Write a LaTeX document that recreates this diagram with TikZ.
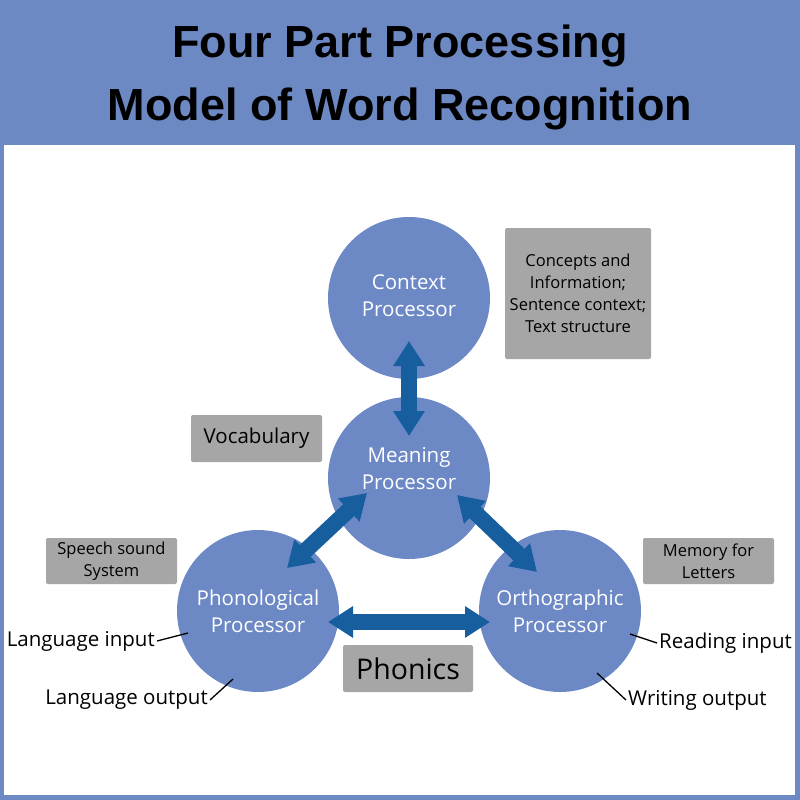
\documentclass[tikz,border=0pt]{standalone}
\usepackage{xcolor}
\usepackage{fontspec}
\setmainfont{Open Sans}
\newfontfamily\titlefont{Liberation Sans}
\usetikzlibrary{arrows.meta}

\definecolor{bandblue}{RGB}{109,137,196}
\definecolor{procblue}{RGB}{108,136,197}
\definecolor{arrowblue}{RGB}{22,94,158}
\definecolor{boxgray}{RGB}{166,166,166}

\tikzset{
  proc/.style={circle,fill=procblue,minimum size=162pt,inner sep=0pt,text=white,align=center,font=\fontsize{20.5}{27}\selectfont},
  infobox/.style={fill=boxgray,rounded corners=2pt,align=center,font=\fontsize{16.5}{22}\selectfont},
  dblarrow/.style={draw=arrowblue,line width=16pt,{Triangle[width=30pt,length=25pt]}-{Triangle[width=30pt,length=25pt]}},
  tag/.style={font=\fontsize{20.5}{24}\selectfont,inner sep=2pt}
}

\begin{document}
\begin{tikzpicture}[x=1pt,y=-1pt]
\fill [bandblue] (0,0) rectangle (800,800);
\fill [white] (4,145) rectangle (795,795);
\node [anchor=base,font=\titlefont\fontsize{45}{54}\selectfont\bfseries] (titletop) at (400,57) {Four Part Processing};
\node [anchor=base,font=\titlefont\fontsize{45}{54}\selectfont\bfseries] (titlebot) at (400,120) {Model of Word Recognition};
\foreach \name/\x/\y/\td/\txt in {context/409/298/5/{Context\\Processor},meaning/409/478/19/{Meaning\\Processor},phono/258/611/-3/{Phonological\\Processor},ortho/560/611/0/{Orthographic\\Processor}}
  \node [proc,text depth=\td pt] (\name) at (\x,\y) {\txt};
\foreach \name/\x/\y/\w/\h/\txt in {concepts/578/293.5/146/131/{Concepts and\\Information;\\Sentence context;\\Text structure},vocab/256.5/438.5/131/47/{\fontsize{20.5}{24}\selectfont Vocabulary},speech/111.5/561/131/46/{Speech sound\\System},memory/708.5/561/131/46/{Memory for\\Letters},phonics/408/668.5/130/47/{\fontsize{28.5}{34}\selectfont Phonics}}
  \node [infobox,minimum width=\w pt,minimum height=\h pt] (\name) at (\x,\y) {\txt};
\foreach \a/\ax/\ay/\b/\bx/\by in {context/0/43/meaning/0/-42,meaning/-42/15/phono/29/-43,meaning/48/17/ortho/-23/-39,phono/70/11/ortho/-70/11}
  \draw [dblarrow] ([shift={(\ax,\ay)}]\a.center) -- ([shift={(\bx,\by)}]\b.center);
\node [tag,anchor=east] (langin) at (157,641) {Language input};
\node [tag,anchor=east] (langout) at (210,700) {Language output};
\node [tag,anchor=west] (readin) at (657,643) {Reading input};
\node [tag,anchor=west] (writeout) at (626,700) {Writing output};
\draw [line width=1.3pt] (langin.east) -- ([shift={(-70,22)}]phono.center);
\draw [line width=1.3pt] (langout.east) -- ([shift={(-25,68)}]phono.center);
\draw [line width=1.3pt] (readin.west) -- ([shift={(70,23)}]ortho.center);
\draw [line width=1.3pt] (writeout.west) -- ([shift={(37,62)}]ortho.center);
\end{tikzpicture}
\end{document}
